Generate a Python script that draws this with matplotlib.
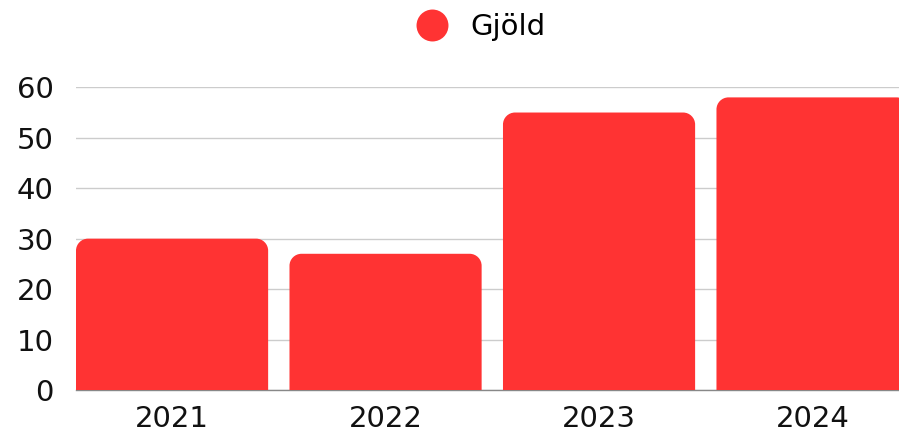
import matplotlib
matplotlib.use('Agg')
import matplotlib.pyplot as plt
from matplotlib.path import Path
from matplotlib.patches import PathPatch
from matplotlib.lines import Line2D

plt.rcParams['font.family'] = ['DejaVu Sans']

# data
years = ['2021', '2022', '2023', '2024']
gjold = [30, 27, 55, 58]

bar_color = '#ff3333'
W, H = 899, 436


def rounded_top(x0, w, h, rx, ry):
    # bar path with rounded top corners (radius given in data units)
    k = 0.5523
    x1 = x0 + w
    verts = [
        (x0, 0), (x0, h - ry),
        (x0, h - ry + k * ry), (x0 + rx - k * rx, h), (x0 + rx, h),
        (x1 - rx, h),
        (x1 - rx + k * rx, h), (x1, h - ry + k * ry), (x1, h - ry),
        (x1, 0), (x0, 0),
    ]
    codes = [Path.MOVETO, Path.LINETO,
             Path.CURVE4, Path.CURVE4, Path.CURVE4,
             Path.LINETO,
             Path.CURVE4, Path.CURVE4, Path.CURVE4,
             Path.LINETO, Path.CLOSEPOLY]
    return Path(verts, codes)


fig = plt.figure(figsize=(W / 100, H / 100), dpi=100)
ax = fig.add_axes([76 / W, 46 / H, 1 - 76 / W, (390 - 87.3) / H])

xs = range(len(years))
bars = ax.bar(xs, gjold, width=0.9, color=bar_color, alpha=0)
ax.set_xlim(-0.45, 3.405)
ax.set_ylim(0, 60)

# corner radius ~12 px
px_x = (3.405 + 0.45) / (W - 76)
px_y = 60 / (390 - 87.3)
r = 12
for b in bars:
    p = rounded_top(b.get_x(), b.get_width(), b.get_height(), r * px_x, r * px_y)
    ax.add_patch(PathPatch(p, facecolor=bar_color, edgecolor='none', zorder=3))

ax.set_yticks(range(0, 61, 10))
ax.set_xticks(list(xs))
ax.set_xticklabels(years)
ax.grid(axis='y', color='#cccccc', linewidth=1)
ax.set_axisbelow(True)
for s in ['top', 'right', 'left']:
    ax.spines[s].set_visible(False)
ax.spines['bottom'].set_color('#888888')
ax.spines['bottom'].set_linewidth(1)
ax.tick_params(axis='both', length=0, labelsize=21, colors='#111111')
ax.tick_params(axis='y', pad=16)
ax.tick_params(axis='x', pad=11)

handle = Line2D([], [], marker='o', linestyle='none', markersize=23,
                markerfacecolor=bar_color, markeredgecolor='none')
fig.legend([handle], ['Gjöld'], loc='center', bbox_to_anchor=(474 / W, 1 - 27 / H),
           frameon=False, fontsize=21, handletextpad=0.3)

plt.savefig('out.png', dpi=100)
